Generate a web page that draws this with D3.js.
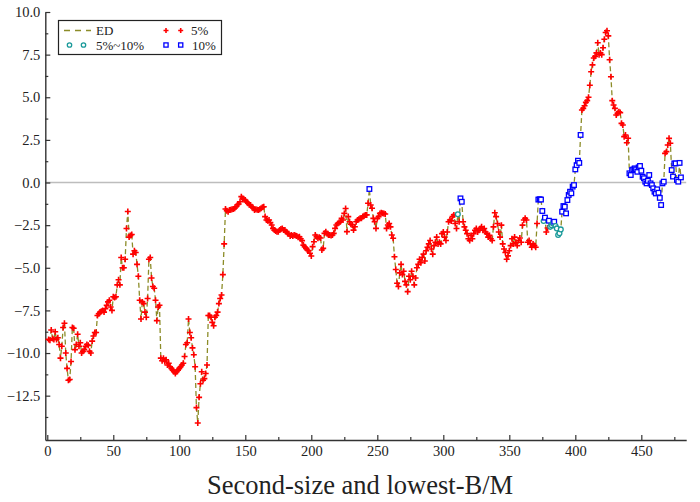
<!DOCTYPE html>
<html><head><meta charset="utf-8">
<script src="https://cdn.jsdelivr.net/npm/d3@7"></script>
<style>
body{margin:0;background:#fff}
text{font-family:"Liberation Serif","DejaVu Serif",serif;fill:#222}
</style>
</head><body>
<svg id="c" width="700" height="502"></svg>
<script>
// ED values, index 1..480
const values = [
-9.2,-9.25,-8.65,-9.15,-9.2,-8.75,-9.2,-9.1,-9.5,-10.3,
-9.6,-8.5,-8.25,-10.0,-10.9,-11.6,-11.55,-10.5,-8.5,-8.55,
-9.8,-9.5,-8.9,-9.6,-9.4,-10.0,-9.9,-9.8,-9.6,-9.5,
-9.55,-9.9,-10.0,-9.3,-9.0,-8.8,-8.8,-7.8,-7.7,-7.6,
-7.55,-7.5,-7.6,-7.4,-7.2,-7.0,-6.9,-7.3,-7.5,-6.7,
-6.75,-6.7,-6.0,-5.7,-6.0,-4.4,-5.0,-5.0,-4.5,-2.7,
-1.7,-3.2,-3.1,-3.05,-4.2,-4.0,-4.1,-4.8,-5.5,-6.9,
-8.0,-7.0,-7.1,-7.6,-7.9,-6.8,-4.5,-4.4,-5.6,-6.1,
-6.2,-6.9,-8.1,-7.3,-7.2,-10.3,-10.45,-10.3,-10.5,-10.4,
-10.7,-10.6,-10.8,-10.9,-11.0,-11.1,-11.2,-11.1,-11.0,-10.9,
-10.8,-10.7,-10.6,-10.2,-9.5,-9.4,-8.0,-8.8,-9.1,-9.7,
-10.1,-10.8,-13.2,-14.1,-12.6,-11.8,-11.1,-11.6,-11.5,-11.2,
-10.7,-7.8,-7.8,-7.9,-8.2,-8.4,-7.9,-7.8,-7.6,-7.1,
-6.8,-6.6,-5.4,-3.6,-1.55,-1.65,-1.71,-1.61,-1.6,-1.57,
-1.55,-1.51,-1.42,-1.3,-1.26,-1.13,-0.83,-0.93,-1.0,-1.03,
-1.13,-1.22,-1.3,-1.32,-1.42,-1.51,-1.61,-1.57,-1.6,-1.61,
-1.57,-1.51,-1.45,-1.42,-2.0,-2.2,-2.24,-2.2,-2.35,-2.49,
-2.69,-2.79,-2.84,-2.89,-2.89,-2.79,-2.73,-2.69,-2.79,-2.79,
-2.89,-2.98,-3.0,-3.14,-3.08,-3.14,-3.08,-3.1,-3.14,-3.21,
-3.18,-3.3,-3.41,-3.67,-3.77,-3.86,-3.96,-4.0,-4.15,-4.31,
-3.76,-3.47,-3.08,-3.18,-3.27,-3.21,-3.25,-3.96,-3.86,-2.98,
-2.88,-3.0,-3.08,-3.08,-3.1,-3.08,-2.98,-2.69,-2.49,-2.4,
-2.35,-2.3,-2.1,-2.2,-1.81,-1.52,-2.88,-2.0,-2.3,-2.45,
-2.49,-2.79,-2.59,-2.3,-2.2,-2.15,-2.1,-2.1,-2.0,-1.95,
-1.9,-1.9,-1.22,-0.38,-1.32,-1.51,-2.1,-2.3,-2.69,-2.1,
-2.0,-1.81,-1.77,-1.8,-1.81,-1.85,-2.69,-2.49,-2.4,-2.6,
-3.08,-3.27,-4.35,-5.1,-5.91,-6.1,-5.3,-4.8,-5.4,-5.2,
-5.8,-6.0,-6.4,-5.5,-5.7,-5.2,-5.5,-6.0,-5.6,-5.0,
-4.8,-4.5,-4.7,-4.4,-4.2,-4.6,-4.0,-3.8,-3.6,-3.4,
-3.9,-4.2,-3.7,-3.5,-3.2,-3.6,-3.5,-3.6,-3.0,-2.9,
-3.2,-3.4,-2.9,-2.3,-2.2,-2.25,-2.0,-1.9,-2.4,-2.7,
-1.86,-2.3,-0.93,-1.13,-2.3,-2.6,-2.8,-3.0,-3.3,-3.4,
-3.1,-3.3,-3.0,-2.8,-2.7,-2.9,-2.8,-2.7,-2.6,-2.8,
-2.7,-2.9,-3.0,-3.2,-3.1,-3.3,-3.4,-2.6,-1.77,-2.0,
-2.4,-2.9,-3.2,-2.5,-3.6,-3.9,-4.1,-4.5,-4.3,-4.0,
-3.7,-3.3,-3.6,-3.2,-3.5,-3.7,-3.4,-3.25,-3.5,-2.5,
-2.2,-2.1,-2.2,-3.5,-3.4,-3.6,-3.8,-3.6,-3.7,-3.8,
-2.4,-1.0,-0.98,-1.0,-1.67,-2.26,-2.06,-2.9,-2.67,-2.24,
-2.6,-2.5,-2.4,-2.3,-2.55,-2.69,-3.08,-2.98,-2.75,-1.71,
-1.38,-1.42,-1.81,-1.03,-0.73,-0.54,-0.63,-0.24,-0.15,0.77,
1.02,1.28,1.15,2.79,4.25,4.35,4.5,4.7,4.8,5.0,
5.7,6.5,6.9,7.3,7.4,7.6,8.2,7.5,7.6,7.5,
7.9,8.4,8.8,8.9,8.6,7.2,6.2,4.8,4.55,4.35,
3.96,4.06,4.15,4.1,3.47,3.37,2.69,2.79,2.33,2.6,
0.54,0.44,0.73,0.77,0.83,0.77,0.63,0.89,0.97,0.69,
0.34,0.25,0.05,-0.05,0.1,0.44,-0.05,-0.15,-0.34,-0.54,
-0.64,-0.4,-0.6,-0.9,-1.32,-0.05,0.05,1.71,1.81,2.2,
2.59,2.3,0.73,0.35,1.12,1.12,0.15,0.05,1.15,0.3
];
// indices significant at 10% (blue squares) and 5%~10% (teal circles); others 5% (red plus)
const tenPct = [244,313,314,372,373,374,375,377,380,384,
  390,391,392,393,394,395,396,397,398,399,400,401,402,403,404,
  441,442,443,444,445,446,447,448,449,450,451,452,453,454,455,456,457,458,459,460,
  461,462,463,464,465,466,467,473,474,475,476,477,478,479,480];
const fiveTenPct = [311,376,381,382,383,385,386,387,388,389];
const xTicks = [0,50,100,150,200,250,300,350,400,450];
const xMinor = [25,75,125,175,225,275,325,375,425,475];
const yTicks = [-12.5,-10,-7.5,-5,-2.5,0,2.5,5,7.5,10];
const yMinor = [-13.75,-11.25,-8.75,-6.25,-3.75,-1.25,1.25,3.75,6.25,8.75];
const legendLabels = ["ED","5%","5%~10%","10%"];
const xTitle = "Second-size and lowest-B/M";

const data = values.map((v,i)=>({i:i+1,v:v,
  c: tenPct.includes(i+1) ? "ten" : (fiveTenPct.includes(i+1) ? "mid" : "five")}));

const svg = d3.select("#c");
svg.append("rect").attr("width",700).attr("height",502).attr("fill","#fff");
const x = d3.scaleLinear().domain([-1.5,484]).range([45.3,686.2]);
const y = d3.scaleLinear().domain([-15.1,10]).range([440,12]);

const red="#ff0000", blue="#0000ff", teal="#1a9a9a", olive="#8c8c28";

// zero line
svg.append("line").attr("x1",x(-1.5)).attr("x2",x(484)).attr("y1",y(0)).attr("y2",y(0))
  .attr("stroke","#bdbdbd").attr("stroke-width",1.6);

// axes
const gx = svg.append("g").attr("transform",`translate(0,${y(-15.1)})`);
gx.call(d3.axisBottom(x).tickValues(xTicks).tickSize(-5).tickSizeOuter(0).tickPadding(6).tickFormat(d3.format("d")));
const gxm = svg.append("g").attr("transform",`translate(0,${y(-15.1)})`);
gxm.call(d3.axisBottom(x).tickValues(xMinor).tickSize(-3).tickSizeOuter(0).tickFormat(""));
gxm.select(".domain").remove();
const gy = svg.append("g").attr("transform",`translate(${x(-1.5)},0)`);
gy.call(d3.axisLeft(y).tickValues(yTicks).tickSize(-5).tickSizeOuter(0).tickPadding(5).tickFormat(d3.format(".1f")));
const gym = svg.append("g").attr("transform",`translate(${x(-1.5)},0)`);
gym.call(d3.axisLeft(y).tickValues(yMinor).tickSize(-3).tickSizeOuter(0).tickFormat(""));
gym.select(".domain").remove();
svg.selectAll(".domain").attr("stroke","#333").attr("stroke-width",1.4);
svg.selectAll(".tick line").attr("stroke","#333").attr("stroke-width",1.2);
svg.selectAll(".tick text").attr("font-size",14.5).attr("font-family","Liberation Serif").attr("fill","#222");

// line
const line = d3.line().x(d=>x(d.i)).y(d=>y(d.v));
svg.append("path").datum(data).attr("d",line).attr("fill","none")
  .attr("stroke",olive).attr("stroke-width",1.3).attr("stroke-dasharray","5,3");

// markers
function plus(g,cx,cy,s){g.append("path").attr("d",`M${cx-s},${cy}H${cx+s}M${cx},${cy-s}V${cy+s}`)
  .attr("stroke",red).attr("stroke-width",1.6).attr("fill","none");}
function square(g,cx,cy,s){g.append("rect").attr("x",cx-s).attr("y",cy-s).attr("width",2*s).attr("height",2*s)
  .attr("stroke",blue).attr("stroke-width",1.3).attr("fill","#fff");}
function circ(g,cx,cy,r){g.append("circle").attr("cx",cx).attr("cy",cy).attr("r",r)
  .attr("stroke",teal).attr("stroke-width",1.3).attr("fill","#fff");}
const gm = svg.append("g");
data.forEach(d=>{
  const cx=x(d.i), cy=y(d.v);
  if(d.c==="five") plus(gm,cx,cy,3);
  else if(d.c==="ten") square(gm,cx,cy,2.3);
  else circ(gm,cx,cy,2.4);
});

// legend
const lg = svg.append("g");
lg.append("rect").attr("x",58.5).attr("y",20.5).attr("width",163).attr("height",34)
  .attr("fill","#fff").attr("stroke","#222").attr("stroke-width",1.2);
lg.append("line").attr("x1",64).attr("x2",91).attr("y1",30.5).attr("y2",30.5)
  .attr("stroke",olive).attr("stroke-width",1.3).attr("stroke-dasharray","6,5");
plus(lg,166,30.5,2.5); plus(lg,180.7,30.5,2.5);
circ(lg,69.5,45,2.2); circ(lg,83.5,45,2.2);
square(lg,166,45,2.1); square(lg,180.7,45,2.1);
const lt = [[legendLabels[0],96,30.5],[legendLabels[1],191,30.5],[legendLabels[2],96,45],[legendLabels[3],192,45]];
lt.forEach(t=>lg.append("text").attr("x",t[1]).attr("y",t[2]).attr("dy","0.35em")
  .attr("font-size",13).text(t[0]));

// x title
svg.append("text").attr("x",360).attr("y",494).attr("text-anchor","middle")
  .attr("font-size",26.5).text(xTitle);
</script>
</body></html>
